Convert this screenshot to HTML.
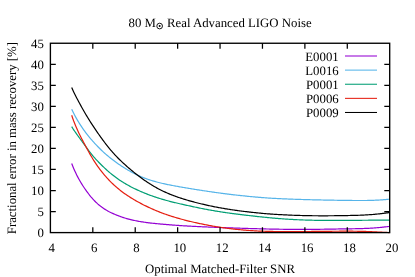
<!DOCTYPE html>
<html><head><meta charset="utf-8"><title>chart</title>
<style>
html,body{margin:0;padding:0;background:#fff;}
body{width:415px;height:277px;overflow:hidden;position:relative;}
.t{font-family:"Liberation Serif",serif;font-size:12.8px;fill:#000;text-rendering:geometricPrecision;}
</style></head><body>
<svg width="415" height="277" viewBox="0 0 415 277" style="position:absolute;left:0;top:0;will-change:transform">
<rect width="415" height="277" fill="#fff"/>
<g fill="none" stroke-linejoin="round" stroke-linecap="butt">
<path d="M71.69,163.56 L72.69,166.08 L73.69,168.46 L74.69,170.72 L75.69,172.86 L76.69,174.91 L77.69,176.86 L78.69,178.72 L79.69,180.51 L80.69,182.22 L81.69,183.87 L82.69,185.45 L83.69,186.99 L84.69,188.47 L85.69,189.91 L86.69,191.32 L87.69,192.68 L88.69,194.00 L89.69,195.28 L90.69,196.52 L91.69,197.70 L92.69,198.84 L93.69,199.94 L94.69,200.98 L95.69,201.98 L96.69,202.93 L97.69,203.84 L98.69,204.71 L99.69,205.54 L100.69,206.33 L101.69,207.08 L102.69,207.79 L103.69,208.48 L104.69,209.12 L105.69,209.74 L106.69,210.34 L107.69,210.90 L108.69,211.45 L109.69,211.97 L110.69,212.46 L111.69,212.94 L112.69,213.41 L113.69,213.86 L114.69,214.29 L115.69,214.72 L116.69,215.13 L117.69,215.53 L118.69,215.91 L119.69,216.29 L120.69,216.65 L121.69,217.00 L122.69,217.34 L123.69,217.66 L124.69,217.98 L125.69,218.28 L126.69,218.57 L127.69,218.85 L128.69,219.12 L129.69,219.38 L130.69,219.63 L131.69,219.87 L132.69,220.10 L133.69,220.32 L134.69,220.53 L135.69,220.73 L136.69,220.93 L137.69,221.12 L138.69,221.30 L139.69,221.48 L140.69,221.64 L141.69,221.81 L142.69,221.96 L143.69,222.11 L144.69,222.26 L145.69,222.40 L146.69,222.54 L147.69,222.67 L148.69,222.79 L149.69,222.91 L150.69,223.03 L151.69,223.15 L152.69,223.26 L153.69,223.36 L154.69,223.47 L155.69,223.57 L156.69,223.67 L157.69,223.76 L158.69,223.86 L159.69,223.95 L160.69,224.04 L161.69,224.13 L162.69,224.22 L163.69,224.30 L164.69,224.39 L165.69,224.47 L166.69,224.55 L167.69,224.64 L168.69,224.72 L169.69,224.80 L170.69,224.88 L171.69,224.95 L172.69,225.03 L173.69,225.11 L174.69,225.18 L175.69,225.25 L176.69,225.32 L177.69,225.39 L178.69,225.46 L179.69,225.53 L180.69,225.60 L181.69,225.66 L182.69,225.73 L183.69,225.79 L184.69,225.85 L185.69,225.91 L186.69,225.97 L187.69,226.03 L188.69,226.08 L189.69,226.14 L190.69,226.19 L191.69,226.25 L192.69,226.30 L193.69,226.35 L194.69,226.40 L195.69,226.45 L196.69,226.50 L197.69,226.55 L198.69,226.59 L199.69,226.64 L200.69,226.69 L201.69,226.73 L202.69,226.78 L203.69,226.82 L204.69,226.86 L205.69,226.91 L206.69,226.95 L207.69,226.99 L208.69,227.04 L209.69,227.08 L210.69,227.12 L211.69,227.16 L212.69,227.20 L213.69,227.25 L214.69,227.29 L215.69,227.33 L216.69,227.37 L217.69,227.41 L218.69,227.45 L219.69,227.49 L220.69,227.53 L221.69,227.57 L222.69,227.60 L223.69,227.64 L224.69,227.68 L225.69,227.72 L226.69,227.76 L227.69,227.79 L228.69,227.83 L229.69,227.87 L230.69,227.90 L231.69,227.94 L232.69,227.97 L233.69,228.01 L234.69,228.04 L235.69,228.07 L236.69,228.11 L237.69,228.14 L238.69,228.17 L239.69,228.21 L240.69,228.24 L241.69,228.27 L242.69,228.30 L243.69,228.33 L244.69,228.37 L245.69,228.40 L246.69,228.43 L247.69,228.46 L248.69,228.49 L249.69,228.52 L250.69,228.55 L251.69,228.58 L252.69,228.61 L253.69,228.64 L254.69,228.66 L255.69,228.69 L256.69,228.72 L257.69,228.75 L258.69,228.77 L259.69,228.80 L260.69,228.83 L261.69,228.85 L262.69,228.88 L263.69,228.90 L264.69,228.93 L265.69,228.95 L266.69,228.98 L267.69,229.00 L268.69,229.02 L269.69,229.04 L270.69,229.07 L271.69,229.09 L272.69,229.11 L273.69,229.13 L274.69,229.14 L275.69,229.16 L276.69,229.18 L277.69,229.20 L278.69,229.21 L279.69,229.23 L280.69,229.24 L281.69,229.26 L282.69,229.27 L283.69,229.28 L284.69,229.29 L285.69,229.31 L286.69,229.32 L287.69,229.33 L288.69,229.34 L289.69,229.35 L290.69,229.35 L291.69,229.36 L292.69,229.37 L293.69,229.37 L294.69,229.38 L295.69,229.38 L296.69,229.39 L297.69,229.39 L298.69,229.39 L299.69,229.39 L300.69,229.39 L301.69,229.39 L302.69,229.39 L303.69,229.39 L304.69,229.39 L305.69,229.39 L306.69,229.38 L307.69,229.38 L308.69,229.38 L309.69,229.37 L310.69,229.36 L311.69,229.36 L312.69,229.35 L313.69,229.34 L314.69,229.33 L315.69,229.32 L316.69,229.31 L317.69,229.30 L318.69,229.29 L319.69,229.28 L320.69,229.27 L321.69,229.26 L322.69,229.24 L323.69,229.23 L324.69,229.21 L325.69,229.20 L326.69,229.18 L327.69,229.17 L328.69,229.15 L329.69,229.13 L330.69,229.12 L331.69,229.10 L332.69,229.08 L333.69,229.06 L334.69,229.05 L335.69,229.03 L336.69,229.01 L337.69,228.99 L338.69,228.97 L339.69,228.96 L340.69,228.94 L341.69,228.92 L342.69,228.91 L343.69,228.89 L344.69,228.88 L345.69,228.86 L346.69,228.85 L347.69,228.83 L348.69,228.82 L349.69,228.81 L350.69,228.79 L351.69,228.78 L352.69,228.76 L353.69,228.75 L354.69,228.73 L355.69,228.71 L356.69,228.69 L357.69,228.67 L358.69,228.65 L359.69,228.63 L360.69,228.60 L361.69,228.57 L362.69,228.54 L363.69,228.50 L364.69,228.47 L365.69,228.43 L366.69,228.38 L367.69,228.34 L368.69,228.29 L369.69,228.24 L370.69,228.18 L371.69,228.12 L372.69,228.06 L373.69,227.99 L374.69,227.92 L375.69,227.85 L376.69,227.77 L377.69,227.69 L378.69,227.60 L379.69,227.50 L380.69,227.41 L381.69,227.30 L382.69,227.20 L383.69,227.09 L384.69,226.97 L385.69,226.85 L386.69,226.73 L387.69,226.60 L388.69,226.47 L389.60,226.34" stroke="#9400d3" stroke-width="1.2"/>
<path d="M71.69,109.25 L72.69,111.35 L73.69,113.35 L74.69,115.27 L75.69,117.10 L76.69,118.87 L77.69,120.58 L78.69,122.24 L79.69,123.85 L80.69,125.42 L81.69,126.93 L82.69,128.40 L83.69,129.82 L84.69,131.20 L85.69,132.55 L86.69,133.86 L87.69,135.13 L88.69,136.38 L89.69,137.59 L90.69,138.78 L91.69,139.94 L92.69,141.08 L93.69,142.20 L94.69,143.30 L95.69,144.38 L96.69,145.44 L97.69,146.48 L98.69,147.50 L99.69,148.50 L100.69,149.48 L101.69,150.45 L102.69,151.39 L103.69,152.32 L104.69,153.22 L105.69,154.11 L106.69,154.97 L107.69,155.82 L108.69,156.65 L109.69,157.46 L110.69,158.26 L111.69,159.04 L112.69,159.81 L113.69,160.56 L114.69,161.31 L115.69,162.03 L116.69,162.75 L117.69,163.46 L118.69,164.15 L119.69,164.84 L120.69,165.51 L121.69,166.17 L122.69,166.82 L123.69,167.46 L124.69,168.09 L125.69,168.70 L126.69,169.31 L127.69,169.91 L128.69,170.49 L129.69,171.06 L130.69,171.62 L131.69,172.17 L132.69,172.71 L133.69,173.24 L134.69,173.75 L135.69,174.25 L136.69,174.74 L137.69,175.21 L138.69,175.67 L139.69,176.11 L140.69,176.54 L141.69,176.96 L142.69,177.37 L143.69,177.76 L144.69,178.15 L145.69,178.52 L146.69,178.88 L147.69,179.23 L148.69,179.57 L149.69,179.90 L150.69,180.22 L151.69,180.53 L152.69,180.84 L153.69,181.13 L154.69,181.42 L155.69,181.70 L156.69,181.97 L157.69,182.24 L158.69,182.50 L159.69,182.75 L160.69,182.99 L161.69,183.23 L162.69,183.47 L163.69,183.69 L164.69,183.92 L165.69,184.13 L166.69,184.35 L167.69,184.55 L168.69,184.76 L169.69,184.96 L170.69,185.15 L171.69,185.34 L172.69,185.53 L173.69,185.72 L174.69,185.90 L175.69,186.09 L176.69,186.27 L177.69,186.44 L178.69,186.62 L179.69,186.79 L180.69,186.97 L181.69,187.14 L182.69,187.31 L183.69,187.48 L184.69,187.65 L185.69,187.82 L186.69,187.99 L187.69,188.16 L188.69,188.32 L189.69,188.49 L190.69,188.66 L191.69,188.82 L192.69,188.99 L193.69,189.15 L194.69,189.31 L195.69,189.47 L196.69,189.64 L197.69,189.80 L198.69,189.95 L199.69,190.11 L200.69,190.27 L201.69,190.42 L202.69,190.58 L203.69,190.73 L204.69,190.88 L205.69,191.03 L206.69,191.18 L207.69,191.33 L208.69,191.48 L209.69,191.62 L210.69,191.77 L211.69,191.91 L212.69,192.05 L213.69,192.20 L214.69,192.34 L215.69,192.48 L216.69,192.62 L217.69,192.76 L218.69,192.89 L219.69,193.03 L220.69,193.16 L221.69,193.30 L222.69,193.43 L223.69,193.56 L224.69,193.69 L225.69,193.82 L226.69,193.94 L227.69,194.07 L228.69,194.19 L229.69,194.31 L230.69,194.43 L231.69,194.55 L232.69,194.67 L233.69,194.78 L234.69,194.90 L235.69,195.01 L236.69,195.12 L237.69,195.23 L238.69,195.34 L239.69,195.45 L240.69,195.56 L241.69,195.66 L242.69,195.77 L243.69,195.87 L244.69,195.97 L245.69,196.08 L246.69,196.18 L247.69,196.28 L248.69,196.38 L249.69,196.48 L250.69,196.57 L251.69,196.67 L252.69,196.76 L253.69,196.86 L254.69,196.95 L255.69,197.04 L256.69,197.13 L257.69,197.21 L258.69,197.30 L259.69,197.38 L260.69,197.47 L261.69,197.54 L262.69,197.62 L263.69,197.70 L264.69,197.77 L265.69,197.84 L266.69,197.91 L267.69,197.98 L268.69,198.04 L269.69,198.11 L270.69,198.17 L271.69,198.23 L272.69,198.29 L273.69,198.34 L274.69,198.40 L275.69,198.45 L276.69,198.50 L277.69,198.56 L278.69,198.61 L279.69,198.65 L280.69,198.70 L281.69,198.75 L282.69,198.79 L283.69,198.84 L284.69,198.88 L285.69,198.92 L286.69,198.96 L287.69,199.01 L288.69,199.05 L289.69,199.08 L290.69,199.12 L291.69,199.16 L292.69,199.20 L293.69,199.23 L294.69,199.27 L295.69,199.30 L296.69,199.33 L297.69,199.37 L298.69,199.40 L299.69,199.43 L300.69,199.46 L301.69,199.49 L302.69,199.52 L303.69,199.55 L304.69,199.58 L305.69,199.61 L306.69,199.64 L307.69,199.66 L308.69,199.69 L309.69,199.71 L310.69,199.74 L311.69,199.76 L312.69,199.79 L313.69,199.81 L314.69,199.83 L315.69,199.86 L316.69,199.88 L317.69,199.90 L318.69,199.92 L319.69,199.94 L320.69,199.97 L321.69,199.99 L322.69,200.01 L323.69,200.03 L324.69,200.05 L325.69,200.07 L326.69,200.09 L327.69,200.11 L328.69,200.13 L329.69,200.15 L330.69,200.17 L331.69,200.18 L332.69,200.20 L333.69,200.22 L334.69,200.24 L335.69,200.25 L336.69,200.27 L337.69,200.29 L338.69,200.30 L339.69,200.32 L340.69,200.33 L341.69,200.35 L342.69,200.36 L343.69,200.38 L344.69,200.39 L345.69,200.40 L346.69,200.42 L347.69,200.43 L348.69,200.44 L349.69,200.45 L350.69,200.46 L351.69,200.47 L352.69,200.48 L353.69,200.49 L354.69,200.50 L355.69,200.50 L356.69,200.51 L357.69,200.51 L358.69,200.52 L359.69,200.52 L360.69,200.52 L361.69,200.52 L362.69,200.51 L363.69,200.51 L364.69,200.50 L365.69,200.49 L366.69,200.48 L367.69,200.47 L368.69,200.45 L369.69,200.43 L370.69,200.40 L371.69,200.37 L372.69,200.34 L373.69,200.30 L374.69,200.26 L375.69,200.22 L376.69,200.17 L377.69,200.12 L378.69,200.06 L379.69,200.00 L380.69,199.93 L381.69,199.86 L382.69,199.78 L383.69,199.70 L384.69,199.62 L385.69,199.53 L386.69,199.44 L387.69,199.35 L388.69,199.25 L389.60,199.16" stroke="#56b4e9" stroke-width="1.2"/>
<path d="M71.69,126.68 L72.69,128.27 L73.69,129.80 L74.69,131.27 L75.69,132.70 L76.69,134.11 L77.69,135.50 L78.69,136.88 L79.69,138.26 L80.69,139.62 L81.69,140.99 L82.69,142.35 L83.69,143.71 L84.69,145.07 L85.69,146.43 L86.69,147.79 L87.69,149.15 L88.69,150.50 L89.69,151.82 L90.69,153.12 L91.69,154.37 L92.69,155.59 L93.69,156.77 L94.69,157.91 L95.69,159.03 L96.69,160.12 L97.69,161.19 L98.69,162.24 L99.69,163.26 L100.69,164.27 L101.69,165.26 L102.69,166.23 L103.69,167.19 L104.69,168.13 L105.69,169.05 L106.69,169.96 L107.69,170.85 L108.69,171.72 L109.69,172.58 L110.69,173.41 L111.69,174.23 L112.69,175.04 L113.69,175.82 L114.69,176.58 L115.69,177.33 L116.69,178.06 L117.69,178.77 L118.69,179.46 L119.69,180.14 L120.69,180.80 L121.69,181.44 L122.69,182.07 L123.69,182.69 L124.69,183.30 L125.69,183.89 L126.69,184.47 L127.69,185.03 L128.69,185.59 L129.69,186.13 L130.69,186.66 L131.69,187.18 L132.69,187.69 L133.69,188.19 L134.69,188.68 L135.69,189.16 L136.69,189.63 L137.69,190.09 L138.69,190.55 L139.69,191.00 L140.69,191.44 L141.69,191.87 L142.69,192.30 L143.69,192.72 L144.69,193.13 L145.69,193.53 L146.69,193.93 L147.69,194.32 L148.69,194.70 L149.69,195.07 L150.69,195.44 L151.69,195.81 L152.69,196.16 L153.69,196.51 L154.69,196.85 L155.69,197.19 L156.69,197.52 L157.69,197.84 L158.69,198.16 L159.69,198.47 L160.69,198.78 L161.69,199.08 L162.69,199.37 L163.69,199.66 L164.69,199.95 L165.69,200.23 L166.69,200.50 L167.69,200.77 L168.69,201.04 L169.69,201.30 L170.69,201.56 L171.69,201.81 L172.69,202.06 L173.69,202.31 L174.69,202.55 L175.69,202.79 L176.69,203.03 L177.69,203.27 L178.69,203.50 L179.69,203.73 L180.69,203.96 L181.69,204.18 L182.69,204.41 L183.69,204.63 L184.69,204.85 L185.69,205.07 L186.69,205.29 L187.69,205.51 L188.69,205.73 L189.69,205.94 L190.69,206.16 L191.69,206.37 L192.69,206.59 L193.69,206.80 L194.69,207.02 L195.69,207.23 L196.69,207.44 L197.69,207.65 L198.69,207.86 L199.69,208.06 L200.69,208.26 L201.69,208.47 L202.69,208.66 L203.69,208.86 L204.69,209.06 L205.69,209.25 L206.69,209.44 L207.69,209.62 L208.69,209.81 L209.69,209.99 L210.69,210.17 L211.69,210.35 L212.69,210.53 L213.69,210.70 L214.69,210.87 L215.69,211.04 L216.69,211.20 L217.69,211.37 L218.69,211.53 L219.69,211.69 L220.69,211.85 L221.69,212.00 L222.69,212.15 L223.69,212.30 L224.69,212.45 L225.69,212.60 L226.69,212.74 L227.69,212.88 L228.69,213.02 L229.69,213.16 L230.69,213.30 L231.69,213.43 L232.69,213.56 L233.69,213.70 L234.69,213.83 L235.69,213.95 L236.69,214.08 L237.69,214.21 L238.69,214.33 L239.69,214.45 L240.69,214.57 L241.69,214.70 L242.69,214.82 L243.69,214.93 L244.69,215.05 L245.69,215.17 L246.69,215.29 L247.69,215.40 L248.69,215.52 L249.69,215.63 L250.69,215.75 L251.69,215.86 L252.69,215.97 L253.69,216.09 L254.69,216.20 L255.69,216.31 L256.69,216.42 L257.69,216.53 L258.69,216.63 L259.69,216.74 L260.69,216.85 L261.69,216.95 L262.69,217.06 L263.69,217.16 L264.69,217.26 L265.69,217.36 L266.69,217.46 L267.69,217.56 L268.69,217.66 L269.69,217.75 L270.69,217.84 L271.69,217.94 L272.69,218.03 L273.69,218.11 L274.69,218.20 L275.69,218.29 L276.69,218.37 L277.69,218.45 L278.69,218.53 L279.69,218.61 L280.69,218.69 L281.69,218.76 L282.69,218.83 L283.69,218.91 L284.69,218.98 L285.69,219.04 L286.69,219.11 L287.69,219.18 L288.69,219.24 L289.69,219.30 L290.69,219.36 L291.69,219.42 L292.69,219.47 L293.69,219.53 L294.69,219.58 L295.69,219.63 L296.69,219.68 L297.69,219.73 L298.69,219.77 L299.69,219.82 L300.69,219.86 L301.69,219.90 L302.69,219.94 L303.69,219.98 L304.69,220.01 L305.69,220.05 L306.69,220.08 L307.69,220.11 L308.69,220.14 L309.69,220.17 L310.69,220.20 L311.69,220.22 L312.69,220.24 L313.69,220.27 L314.69,220.29 L315.69,220.31 L316.69,220.32 L317.69,220.34 L318.69,220.36 L319.69,220.37 L320.69,220.38 L321.69,220.39 L322.69,220.40 L323.69,220.41 L324.69,220.42 L325.69,220.43 L326.69,220.43 L327.69,220.43 L328.69,220.44 L329.69,220.44 L330.69,220.44 L331.69,220.44 L332.69,220.44 L333.69,220.44 L334.69,220.44 L335.69,220.43 L336.69,220.43 L337.69,220.43 L338.69,220.42 L339.69,220.42 L340.69,220.41 L341.69,220.41 L342.69,220.40 L343.69,220.40 L344.69,220.39 L345.69,220.39 L346.69,220.38 L347.69,220.37 L348.69,220.37 L349.69,220.36 L350.69,220.35 L351.69,220.35 L352.69,220.34 L353.69,220.33 L354.69,220.33 L355.69,220.32 L356.69,220.31 L357.69,220.31 L358.69,220.30 L359.69,220.29 L360.69,220.28 L361.69,220.28 L362.69,220.27 L363.69,220.26 L364.69,220.25 L365.69,220.25 L366.69,220.24 L367.69,220.23 L368.69,220.22 L369.69,220.22 L370.69,220.21 L371.69,220.20 L372.69,220.19 L373.69,220.19 L374.69,220.18 L375.69,220.17 L376.69,220.16 L377.69,220.16 L378.69,220.15 L379.69,220.14 L380.69,220.14 L381.69,220.13 L382.69,220.12 L383.69,220.11 L384.69,220.11 L385.69,220.10 L386.69,220.09 L387.69,220.09 L388.69,220.08 L389.60,220.07" stroke="#009e73" stroke-width="1.2"/>
<path d="M71.69,115.25 L72.69,118.22 L73.69,120.99 L74.69,123.57 L75.69,126.00 L76.69,128.31 L77.69,130.52 L78.69,132.64 L79.69,134.70 L80.69,136.71 L81.69,138.67 L82.69,140.60 L83.69,142.51 L84.69,144.40 L85.69,146.27 L86.69,148.13 L87.69,149.99 L88.69,151.82 L89.69,153.61 L90.69,155.36 L91.69,157.06 L92.69,158.71 L93.69,160.31 L94.69,161.87 L95.69,163.39 L96.69,164.87 L97.69,166.30 L98.69,167.70 L99.69,169.05 L100.69,170.37 L101.69,171.66 L102.69,172.91 L103.69,174.13 L104.69,175.32 L105.69,176.47 L106.69,177.60 L107.69,178.69 L108.69,179.76 L109.69,180.80 L110.69,181.82 L111.69,182.81 L112.69,183.77 L113.69,184.71 L114.69,185.63 L115.69,186.53 L116.69,187.40 L117.69,188.25 L118.69,189.08 L119.69,189.89 L120.69,190.68 L121.69,191.44 L122.69,192.19 L123.69,192.92 L124.69,193.64 L125.69,194.34 L126.69,195.02 L127.69,195.70 L128.69,196.35 L129.69,197.00 L130.69,197.63 L131.69,198.25 L132.69,198.86 L133.69,199.46 L134.69,200.05 L135.69,200.62 L136.69,201.19 L137.69,201.75 L138.69,202.29 L139.69,202.83 L140.69,203.37 L141.69,203.89 L142.69,204.41 L143.69,204.92 L144.69,205.42 L145.69,205.91 L146.69,206.40 L147.69,206.88 L148.69,207.35 L149.69,207.82 L150.69,208.28 L151.69,208.73 L152.69,209.17 L153.69,209.61 L154.69,210.03 L155.69,210.46 L156.69,210.87 L157.69,211.28 L158.69,211.68 L159.69,212.07 L160.69,212.46 L161.69,212.84 L162.69,213.22 L163.69,213.59 L164.69,213.95 L165.69,214.30 L166.69,214.65 L167.69,215.00 L168.69,215.34 L169.69,215.67 L170.69,216.00 L171.69,216.32 L172.69,216.63 L173.69,216.94 L174.69,217.25 L175.69,217.55 L176.69,217.85 L177.69,218.14 L178.69,218.42 L179.69,218.70 L180.69,218.98 L181.69,219.25 L182.69,219.52 L183.69,219.79 L184.69,220.05 L185.69,220.30 L186.69,220.56 L187.69,220.81 L188.69,221.05 L189.69,221.30 L190.69,221.54 L191.69,221.77 L192.69,222.00 L193.69,222.23 L194.69,222.46 L195.69,222.68 L196.69,222.90 L197.69,223.12 L198.69,223.33 L199.69,223.54 L200.69,223.75 L201.69,223.96 L202.69,224.16 L203.69,224.36 L204.69,224.56 L205.69,224.76 L206.69,224.95 L207.69,225.14 L208.69,225.33 L209.69,225.51 L210.69,225.70 L211.69,225.88 L212.69,226.05 L213.69,226.23 L214.69,226.40 L215.69,226.57 L216.69,226.73 L217.69,226.90 L218.69,227.06 L219.69,227.21 L220.69,227.37 L221.69,227.52 L222.69,227.66 L223.69,227.81 L224.69,227.95 L225.69,228.08 L226.69,228.22 L227.69,228.35 L228.69,228.47 L229.69,228.60 L230.69,228.72 L231.69,228.84 L232.69,228.95 L233.69,229.07 L234.69,229.17 L235.69,229.28 L236.69,229.39 L237.69,229.49 L238.69,229.58 L239.69,229.68 L240.69,229.77 L241.69,229.86 L242.69,229.95 L243.69,230.04 L244.69,230.12 L245.69,230.20 L246.69,230.28 L247.69,230.36 L248.69,230.43 L249.69,230.50 L250.69,230.57 L251.69,230.64 L252.69,230.70 L253.69,230.76 L254.69,230.82 L255.69,230.88 L256.69,230.93 L257.69,230.98 L258.69,231.03 L259.69,231.08 L260.69,231.12 L261.69,231.16 L262.69,231.20 L263.69,231.24 L264.69,231.27 L265.69,231.30 L266.69,231.33 L267.69,231.36 L268.69,231.38 L269.69,231.41 L270.69,231.43 L271.69,231.45 L272.69,231.46 L273.69,231.48 L274.69,231.50 L275.69,231.51 L276.69,231.52 L277.69,231.53 L278.69,231.54 L279.69,231.55 L280.69,231.56 L281.69,231.56 L282.69,231.57 L283.69,231.57 L284.69,231.58 L285.69,231.58 L286.69,231.58 L287.69,231.58 L288.69,231.58 L289.69,231.58 L290.69,231.58 L291.69,231.58 L292.69,231.58 L293.69,231.57 L294.69,231.57 L295.69,231.57 L296.69,231.56 L297.69,231.56 L298.69,231.56 L299.69,231.55 L300.69,231.55 L301.69,231.54 L302.69,231.53 L303.69,231.53 L304.69,231.52 L305.69,231.51 L306.69,231.51 L307.69,231.50 L308.69,231.49 L309.69,231.48 L310.69,231.48 L311.69,231.47 L312.69,231.46 L313.69,231.45 L314.69,231.44 L315.69,231.43 L316.69,231.42 L317.69,231.41 L318.69,231.40 L319.69,231.40 L320.69,231.39 L321.69,231.38 L322.69,231.37 L323.69,231.36 L324.69,231.35 L325.69,231.34 L326.69,231.33 L327.69,231.32 L328.69,231.31 L329.69,231.30 L330.69,231.29 L331.69,231.28 L332.69,231.27 L333.69,231.27 L334.69,231.26 L335.69,231.25 L336.69,231.24 L337.69,231.24 L338.69,231.23 L339.69,231.22 L340.69,231.22 L341.69,231.21 L342.69,231.21 L343.69,231.21 L344.69,231.21 L345.69,231.20 L346.69,231.20 L347.69,231.20 L348.69,231.21 L349.69,231.21 L350.69,231.21 L351.69,231.22 L352.69,231.22 L353.69,231.23 L354.69,231.24 L355.69,231.25 L356.69,231.26 L357.69,231.28 L358.69,231.29 L359.69,231.31 L360.69,231.33 L361.69,231.35 L362.69,231.38 L363.69,231.40 L364.69,231.43 L365.69,231.46 L366.69,231.49 L367.69,231.53 L368.69,231.57 L369.69,231.61 L370.69,231.65 L371.69,231.69 L372.69,231.74 L373.69,231.78 L374.69,231.83 L375.69,231.88 L376.69,231.93 L377.69,231.98 L378.69,232.03 L379.69,232.08 L380.69,232.14 L381.69,232.19 L382.69,232.24 L383.69,232.29 L384.69,232.34 L385.69,232.40 L386.69,232.45 L387.69,232.50 L388.69,232.55 L389.60,232.60" stroke="#e51e10" stroke-width="1.2"/>
<path d="M71.69,87.52 L72.69,89.78 L73.69,91.93 L74.69,93.99 L75.69,95.99 L76.69,97.94 L77.69,99.84 L78.69,101.71 L79.69,103.55 L80.69,105.37 L81.69,107.17 L82.69,108.96 L83.69,110.72 L84.69,112.47 L85.69,114.19 L86.69,115.88 L87.69,117.54 L88.69,119.17 L89.69,120.77 L90.69,122.34 L91.69,123.89 L92.69,125.41 L93.69,126.92 L94.69,128.41 L95.69,129.89 L96.69,131.35 L97.69,132.79 L98.69,134.22 L99.69,135.64 L100.69,137.05 L101.69,138.43 L102.69,139.80 L103.69,141.16 L104.69,142.49 L105.69,143.80 L106.69,145.09 L107.69,146.36 L108.69,147.60 L109.69,148.82 L110.69,150.02 L111.69,151.19 L112.69,152.34 L113.69,153.46 L114.69,154.56 L115.69,155.63 L116.69,156.68 L117.69,157.71 L118.69,158.72 L119.69,159.71 L120.69,160.68 L121.69,161.64 L122.69,162.58 L123.69,163.51 L124.69,164.42 L125.69,165.32 L126.69,166.21 L127.69,167.09 L128.69,167.96 L129.69,168.81 L130.69,169.66 L131.69,170.49 L132.69,171.31 L133.69,172.12 L134.69,172.93 L135.69,173.72 L136.69,174.50 L137.69,175.27 L138.69,176.04 L139.69,176.79 L140.69,177.53 L141.69,178.27 L142.69,178.99 L143.69,179.70 L144.69,180.40 L145.69,181.09 L146.69,181.77 L147.69,182.44 L148.69,183.09 L149.69,183.73 L150.69,184.36 L151.69,184.98 L152.69,185.58 L153.69,186.18 L154.69,186.76 L155.69,187.32 L156.69,187.88 L157.69,188.42 L158.69,188.96 L159.69,189.48 L160.69,189.99 L161.69,190.48 L162.69,190.97 L163.69,191.45 L164.69,191.91 L165.69,192.37 L166.69,192.81 L167.69,193.25 L168.69,193.67 L169.69,194.09 L170.69,194.50 L171.69,194.89 L172.69,195.28 L173.69,195.66 L174.69,196.04 L175.69,196.40 L176.69,196.76 L177.69,197.11 L178.69,197.45 L179.69,197.79 L180.69,198.12 L181.69,198.44 L182.69,198.76 L183.69,199.07 L184.69,199.38 L185.69,199.68 L186.69,199.98 L187.69,200.27 L188.69,200.56 L189.69,200.84 L190.69,201.12 L191.69,201.40 L192.69,201.67 L193.69,201.94 L194.69,202.21 L195.69,202.47 L196.69,202.73 L197.69,202.98 L198.69,203.23 L199.69,203.48 L200.69,203.73 L201.69,203.97 L202.69,204.20 L203.69,204.44 L204.69,204.67 L205.69,204.89 L206.69,205.12 L207.69,205.34 L208.69,205.56 L209.69,205.77 L210.69,205.98 L211.69,206.19 L212.69,206.39 L213.69,206.60 L214.69,206.79 L215.69,206.99 L216.69,207.18 L217.69,207.37 L218.69,207.56 L219.69,207.75 L220.69,207.93 L221.69,208.11 L222.69,208.28 L223.69,208.45 L224.69,208.62 L225.69,208.79 L226.69,208.96 L227.69,209.12 L228.69,209.27 L229.69,209.43 L230.69,209.58 L231.69,209.73 L232.69,209.88 L233.69,210.03 L234.69,210.17 L235.69,210.31 L236.69,210.45 L237.69,210.58 L238.69,210.72 L239.69,210.85 L240.69,210.98 L241.69,211.11 L242.69,211.23 L243.69,211.36 L244.69,211.48 L245.69,211.60 L246.69,211.72 L247.69,211.84 L248.69,211.95 L249.69,212.07 L250.69,212.18 L251.69,212.29 L252.69,212.40 L253.69,212.51 L254.69,212.61 L255.69,212.72 L256.69,212.82 L257.69,212.92 L258.69,213.02 L259.69,213.11 L260.69,213.21 L261.69,213.30 L262.69,213.39 L263.69,213.48 L264.69,213.56 L265.69,213.65 L266.69,213.73 L267.69,213.81 L268.69,213.89 L269.69,213.96 L270.69,214.03 L271.69,214.10 L272.69,214.17 L273.69,214.24 L274.69,214.31 L275.69,214.37 L276.69,214.43 L277.69,214.49 L278.69,214.55 L279.69,214.61 L280.69,214.67 L281.69,214.72 L282.69,214.77 L283.69,214.83 L284.69,214.88 L285.69,214.92 L286.69,214.97 L287.69,215.02 L288.69,215.06 L289.69,215.10 L290.69,215.15 L291.69,215.19 L292.69,215.23 L293.69,215.26 L294.69,215.30 L295.69,215.33 L296.69,215.37 L297.69,215.40 L298.69,215.43 L299.69,215.46 L300.69,215.49 L301.69,215.52 L302.69,215.54 L303.69,215.57 L304.69,215.59 L305.69,215.61 L306.69,215.63 L307.69,215.65 L308.69,215.67 L309.69,215.69 L310.69,215.70 L311.69,215.71 L312.69,215.73 L313.69,215.74 L314.69,215.75 L315.69,215.76 L316.69,215.77 L317.69,215.77 L318.69,215.78 L319.69,215.78 L320.69,215.79 L321.69,215.79 L322.69,215.79 L323.69,215.79 L324.69,215.79 L325.69,215.79 L326.69,215.78 L327.69,215.78 L328.69,215.77 L329.69,215.76 L330.69,215.76 L331.69,215.75 L332.69,215.74 L333.69,215.73 L334.69,215.72 L335.69,215.70 L336.69,215.69 L337.69,215.68 L338.69,215.66 L339.69,215.65 L340.69,215.64 L341.69,215.62 L342.69,215.61 L343.69,215.59 L344.69,215.58 L345.69,215.56 L346.69,215.54 L347.69,215.53 L348.69,215.51 L349.69,215.49 L350.69,215.47 L351.69,215.45 L352.69,215.43 L353.69,215.41 L354.69,215.39 L355.69,215.36 L356.69,215.33 L357.69,215.30 L358.69,215.27 L359.69,215.23 L360.69,215.19 L361.69,215.15 L362.69,215.11 L363.69,215.06 L364.69,215.01 L365.69,214.96 L366.69,214.90 L367.69,214.84 L368.69,214.77 L369.69,214.70 L370.69,214.63 L371.69,214.56 L372.69,214.48 L373.69,214.39 L374.69,214.30 L375.69,214.21 L376.69,214.12 L377.69,214.02 L378.69,213.91 L379.69,213.80 L380.69,213.69 L381.69,213.57 L382.69,213.46 L383.69,213.33 L384.69,213.21 L385.69,213.08 L386.69,212.94 L387.69,212.81 L388.69,212.67 L389.60,212.54" stroke="#000000" stroke-width="1.2"/>
</g>
<path d="M345,56.00 H377" stroke="#9400d3" stroke-width="1.05" fill="none"/>
<text x="338.7" y="60.70" text-anchor="end" class="t">E0001</text>
<path d="M345,70.12 H377" stroke="#56b4e9" stroke-width="1.05" fill="none"/>
<text x="338.7" y="74.82" text-anchor="end" class="t">L0016</text>
<path d="M345,84.24 H377" stroke="#009e73" stroke-width="1.05" fill="none"/>
<text x="338.7" y="88.94" text-anchor="end" class="t">P0001</text>
<path d="M345,98.36 H377" stroke="#e51e10" stroke-width="1.05" fill="none"/>
<text x="338.7" y="103.06" text-anchor="end" class="t">P0006</text>
<path d="M345,112.48 H377" stroke="#000000" stroke-width="1.05" fill="none"/>
<text x="338.7" y="117.18" text-anchor="end" class="t">P0009</text>
<rect x="50.4" y="43.25" width="339.3" height="189.35" fill="none" stroke="#000" stroke-width="1.35"/>
<path d="M92.81,232.6 v-5.4 M92.81,43.25 v5.4 M135.22,232.6 v-5.4 M135.22,43.25 v5.4 M177.64,232.6 v-5.4 M177.64,43.25 v5.4 M220.05,232.6 v-5.4 M220.05,43.25 v5.4 M262.46,232.6 v-5.4 M262.46,43.25 v5.4 M304.88,232.6 v-5.4 M304.88,43.25 v5.4 M347.29,232.6 v-5.4 M347.29,43.25 v5.4 M50.4,211.56 h5.4 M389.7,211.56 h-5.4 M50.4,190.52 h5.4 M389.7,190.52 h-5.4 M50.4,169.48 h5.4 M389.7,169.48 h-5.4 M50.4,148.44 h5.4 M389.7,148.44 h-5.4 M50.4,127.41 h5.4 M389.7,127.41 h-5.4 M50.4,106.37 h5.4 M389.7,106.37 h-5.4 M50.4,85.33 h5.4 M389.7,85.33 h-5.4 M50.4,64.29 h5.4 M389.7,64.29 h-5.4" stroke="#000" stroke-width="1.25" fill="none"/>
<text x="51.75" y="251.6" text-anchor="middle" class="t">4</text>
<text x="94.16" y="251.6" text-anchor="middle" class="t">6</text>
<text x="136.57" y="251.6" text-anchor="middle" class="t">8</text>
<text x="179.84" y="251.6" text-anchor="middle" class="t">10</text>
<text x="222.25" y="251.6" text-anchor="middle" class="t">12</text>
<text x="264.66" y="251.6" text-anchor="middle" class="t">14</text>
<text x="307.07" y="251.6" text-anchor="middle" class="t">16</text>
<text x="349.49" y="251.6" text-anchor="middle" class="t">18</text>
<text x="391.90" y="251.6" text-anchor="middle" class="t">20</text>
<text x="43.9" y="237.30" text-anchor="end" class="t">0</text>
<text x="43.9" y="216.26" text-anchor="end" class="t">5</text>
<text x="43.9" y="195.22" text-anchor="end" class="t">10</text>
<text x="43.9" y="174.18" text-anchor="end" class="t">15</text>
<text x="43.9" y="153.14" text-anchor="end" class="t">20</text>
<text x="43.9" y="132.11" text-anchor="end" class="t">25</text>
<text x="43.9" y="111.07" text-anchor="end" class="t">30</text>
<text x="43.9" y="90.03" text-anchor="end" class="t">35</text>
<text x="43.9" y="68.99" text-anchor="end" class="t">40</text>
<text x="43.9" y="47.95" text-anchor="end" class="t">45</text>
<text x="128.5" y="27.2" class="t">80 M</text>
<text x="167" y="27.2" class="t">Real Advanced LIGO Noise</text>
<circle cx="159.65" cy="26.05" r="2.85" fill="none" stroke="#000" stroke-width="0.9"/><circle cx="159.65" cy="26.05" r="0.95" fill="#000"/>
<text x="220" y="272.8" text-anchor="middle" class="t">Optimal Matched-Filter SNR</text>
<text transform="translate(16.1,138.1) rotate(-90)" text-anchor="middle" class="t">Fractional error in mass recovery [%]</text>
</svg>
</body></html>
